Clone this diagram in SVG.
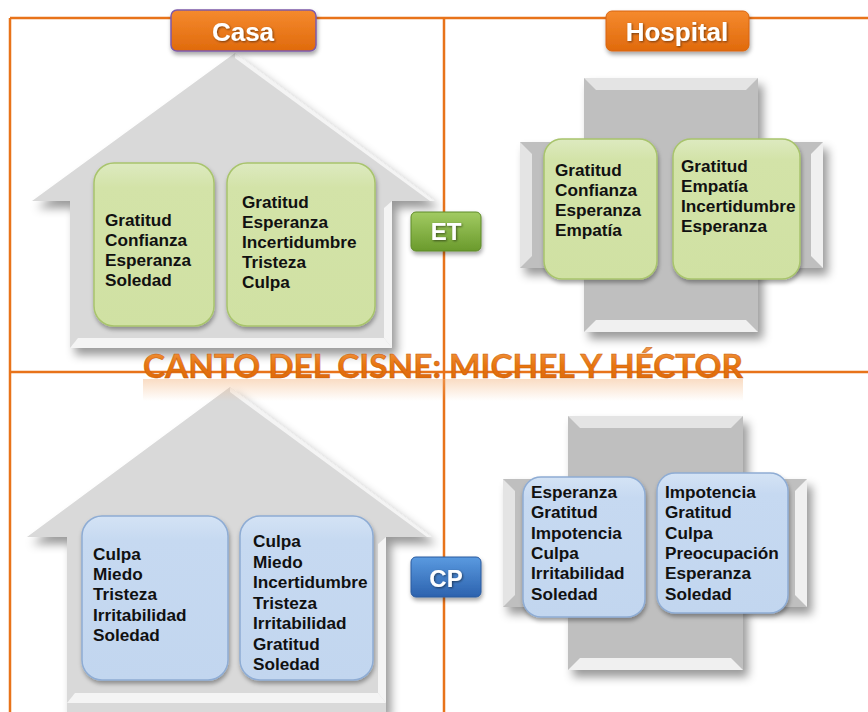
<svg xmlns="http://www.w3.org/2000/svg" width="868" height="712" viewBox="0 0 868 712">
<defs>
<style>
.frame{stroke:#E8731A;stroke-width:2.5;fill:none}
.wall{fill:#D9D9D9}
.hl{fill:#F4F4F4}
.crossbody{fill:#BFBFBF}
.bevel{fill:#E4E4E4}
.bevel2{fill:#F0F0F0}
.gbox{fill:url(#gGreen);stroke:#A8C46C;stroke-width:1.5}
.bbox{fill:url(#gBlue);stroke:#8EACD4;stroke-width:1.5}
.t{font-family:"Liberation Sans",Arial,sans-serif;font-weight:bold;font-size:17.2px;fill:#111}
.lbl{font-family:"Liberation Sans",Arial,sans-serif;font-weight:bold;fill:#fff;text-anchor:middle}
.title{font-family:Lato,"Open Sans",sans-serif;font-weight:bold;font-size:32px}
</style>
<linearGradient id="gGreen" x1="0" y1="0" x2="0" y2="1">
<stop offset="0" stop-color="#DDEAC0"/><stop offset="0.15" stop-color="#D3E3A8"/><stop offset="1" stop-color="#D0E1A3"/>
</linearGradient>
<linearGradient id="gBlue" x1="0" y1="0" x2="0" y2="1">
<stop offset="0" stop-color="#D4E3F5"/><stop offset="0.15" stop-color="#C6D9F1"/><stop offset="1" stop-color="#C2D6EF"/>
</linearGradient>
<linearGradient id="gOrange" x1="0" y1="0" x2="0" y2="1">
<stop offset="0" stop-color="#F58A2E"/><stop offset="1" stop-color="#E06A0C"/>
</linearGradient>
<linearGradient id="gEt" x1="0" y1="0" x2="0" y2="1">
<stop offset="0" stop-color="#A2CB62"/><stop offset="1" stop-color="#6A9A2C"/>
</linearGradient>
<linearGradient id="gCp" x1="0" y1="0" x2="0" y2="1">
<stop offset="0" stop-color="#5A9AE0"/><stop offset="1" stop-color="#2C62AE"/>
</linearGradient>
<linearGradient id="gTitle" x1="0" y1="0" x2="0" y2="1">
<stop offset="0" stop-color="#F29A4A"/><stop offset="0.5" stop-color="#E8750F"/><stop offset="1" stop-color="#D9640A"/>
</linearGradient>
<linearGradient id="gGlow" x1="0" y1="0" x2="0" y2="1">
<stop offset="0" stop-color="#F3B27A" stop-opacity="0.45"/><stop offset="1" stop-color="#F3B27A" stop-opacity="0"/>
</linearGradient>
<filter id="sh" x="-20%" y="-20%" width="150%" height="150%">
<feDropShadow dx="5" dy="7" stdDeviation="5" flood-color="#000" flood-opacity="0.4"/>
</filter>
<filter id="bsh" x="-20%" y="-20%" width="140%" height="140%">
<feDropShadow dx="1" dy="3" stdDeviation="2" flood-color="#000" flood-opacity="0.35"/>
</filter>
<filter id="tsh" x="-20%" y="-20%" width="140%" height="160%">
<feDropShadow dx="1" dy="1" stdDeviation="0.8" flood-color="#000" flood-opacity="0.5"/>
</filter>
</defs>
<rect width="868" height="712" fill="#fff"/>

<g id="connectors">
<line class="frame" x1="10" y1="18" x2="868" y2="18"/>
<line class="frame" x1="10" y1="18" x2="10" y2="712"/>
<line class="frame" x1="444" y1="18" x2="444" y2="712"/>
<line class="frame" x1="10" y1="372" x2="868" y2="372"/>
</g>

<g id="house-et">
<path class="wall" filter="url(#sh)" d="M235,53 L435,201 L392,201 L392,348 L70,348 L70,201 L32,201 Z"/>
<path class="hl" d="M235,53 L435,201 L430,201 L235,58 Z"/>
<path class="hl" d="M70,348 L392,348 L384,338 L78,338 Z"/>
<path class="hl" d="M392,201 L392,348 L384,338 L384,208 Z"/>
</g>
<g id="house-cp">
<path class="wall" filter="url(#sh)" d="M230,387 L432,537 L386,537 L386,712 L67,712 L67,537 L27,537 Z"/>
<path class="hl" d="M230,387 L432,537 L427,537 L230,392 Z"/>
<path class="hl" d="M67,703 L386,703 L378,693 L75,693 Z"/>
<path class="hl" d="M386,537 L386,703 L378,693 L378,544 Z"/>
</g>

<g id="cross-et">
<path class="crossbody" filter="url(#sh)" d="M584,78 L758,78 L758,142 L823,142 L823,268 L758,268 L758,332 L584,332 L584,268 L520,268 L520,142 L584,142 Z"/>
<path class="bevel" d="M584,78 L758,78 L746,90 L596,90 Z"/>
<path class="bevel2" d="M584,332 L758,332 L746,320 L596,320 Z"/>
<path class="bevel" d="M520,142 L520,268 L532,256 L532,154 Z"/>
<path class="bevel2" d="M823,142 L823,268 L811,256 L811,154 Z"/>
</g>
<g id="cross-cp">
<path class="crossbody" filter="url(#sh)" d="M568,416 L743,416 L743,479 L807,479 L807,607 L743,607 L743,670 L568,670 L568,607 L503,607 L503,479 L568,479 Z"/>
<path class="bevel" d="M568,416 L743,416 L731,428 L580,428 Z"/>
<path class="bevel2" d="M568,670 L743,670 L731,658 L580,658 Z"/>
<path class="bevel" d="M503,479 L503,607 L515,595 L515,491 Z"/>
<path class="bevel2" d="M807,479 L807,607 L795,595 L795,491 Z"/>
</g>

<g id="et-casa-1">
<rect class="gbox" filter="url(#bsh)" x="94" y="163" width="120" height="163" rx="20"/>
<text class="t"><tspan x="105" y="226">Gratitud</tspan><tspan x="105" y="246">Confianza</tspan><tspan x="105" y="266">Esperanza</tspan><tspan x="105" y="286">Soledad</tspan></text>
</g>
<g id="et-casa-2">
<rect class="gbox" filter="url(#bsh)" x="227" y="163" width="148" height="163" rx="20"/>
<text class="t"><tspan x="242" y="208">Gratitud</tspan><tspan x="242" y="228">Esperanza</tspan><tspan x="242" y="248">Incertidumbre</tspan><tspan x="242" y="268">Tristeza</tspan><tspan x="242" y="288">Culpa</tspan></text>
</g>
<g id="et-hosp-1">
<rect class="gbox" filter="url(#bsh)" x="544" y="139" width="113" height="140" rx="18"/>
<text class="t"><tspan x="555" y="176">Gratitud</tspan><tspan x="555" y="196">Confianza</tspan><tspan x="555" y="216">Esperanza</tspan><tspan x="555" y="236">Empatía</tspan></text>
</g>
<g id="et-hosp-2">
<rect class="gbox" filter="url(#bsh)" x="673" y="139" width="127" height="140" rx="18"/>
<text class="t"><tspan x="681" y="172">Gratitud</tspan><tspan x="681" y="192">Empatía</tspan><tspan x="681" y="212">Incertidumbre</tspan><tspan x="681" y="232">Esperanza</tspan></text>
</g>
<g id="cp-casa-1">
<rect class="bbox" filter="url(#bsh)" x="82" y="516" width="146" height="164" rx="20"/>
<text class="t"><tspan x="93" y="560">Culpa</tspan><tspan x="93" y="580">Miedo</tspan><tspan x="93" y="600">Tristeza</tspan><tspan x="93" y="621">Irritabilidad</tspan><tspan x="93" y="641">Soledad</tspan></text>
</g>
<g id="cp-casa-2">
<rect class="bbox" filter="url(#bsh)" x="240" y="516" width="133" height="164" rx="20"/>
<text class="t"><tspan x="253" y="547">Culpa</tspan><tspan x="253" y="567.5">Miedo</tspan><tspan x="253" y="588">Incertidumbre</tspan><tspan x="253" y="608.5">Tristeza</tspan><tspan x="253" y="629">Irritabilidad</tspan><tspan x="253" y="649.5">Gratitud</tspan><tspan x="253" y="670">Soledad</tspan></text>
</g>
<g id="cp-hosp-1">
<rect class="bbox" filter="url(#bsh)" x="523" y="477" width="122" height="140" rx="18"/>
<text class="t"><tspan x="531" y="498">Esperanza</tspan><tspan x="531" y="518.3">Gratitud</tspan><tspan x="531" y="538.6">Impotencia</tspan><tspan x="531" y="558.9">Culpa</tspan><tspan x="531" y="579.2">Irritabilidad</tspan><tspan x="531" y="599.5">Soledad</tspan></text>
</g>
<g id="cp-hosp-2">
<rect class="bbox" filter="url(#bsh)" x="657" y="473" width="131" height="140" rx="18"/>
<text class="t"><tspan x="665" y="498">Impotencia</tspan><tspan x="665" y="518.3">Gratitud</tspan><tspan x="665" y="538.6">Culpa</tspan><tspan x="665" y="558.9">Preocupación</tspan><tspan x="665" y="579.2">Esperanza</tspan><tspan x="665" y="599.5">Soledad</tspan></text>
</g>

<g id="casa-label">
<rect x="171" y="10" width="145" height="41" rx="6" fill="url(#gOrange)" stroke="#7E5AA8" stroke-width="1.5" filter="url(#bsh)"/>
<text class="lbl" x="243" y="41" font-size="26" filter="url(#tsh)">Casa</text>
</g>
<g id="hospital-label">
<rect x="606" y="11" width="143" height="40" rx="6" fill="url(#gOrange)" stroke="#D86410" stroke-width="1" filter="url(#bsh)"/>
<text class="lbl" x="677" y="41" font-size="26" filter="url(#tsh)">Hospital</text>
</g>
<g id="et-label">
<rect x="411" y="212" width="70" height="39" rx="5" fill="url(#gEt)" stroke="#5E8A28" stroke-width="1" filter="url(#bsh)"/>
<text class="lbl" x="446" y="240" font-size="24" filter="url(#tsh)">ET</text>
</g>
<g id="cp-label">
<rect x="411" y="557" width="70" height="40" rx="5" fill="url(#gCp)" stroke="#2A5A9E" stroke-width="1" filter="url(#bsh)"/>
<text class="lbl" x="446" y="587" font-size="24" filter="url(#tsh)">CP</text>
</g>

<g id="title">
<rect x="143" y="379" width="600" height="22" fill="url(#gGlow)"/>
<text class="title" x="143" y="378" textLength="600" lengthAdjust="spacingAndGlyphs" fill="url(#gTitle)" stroke="#C85A08" stroke-width="0.5">CANTO DEL CISNE: MICHEL Y HÉCTOR</text>
</g>
</svg>
